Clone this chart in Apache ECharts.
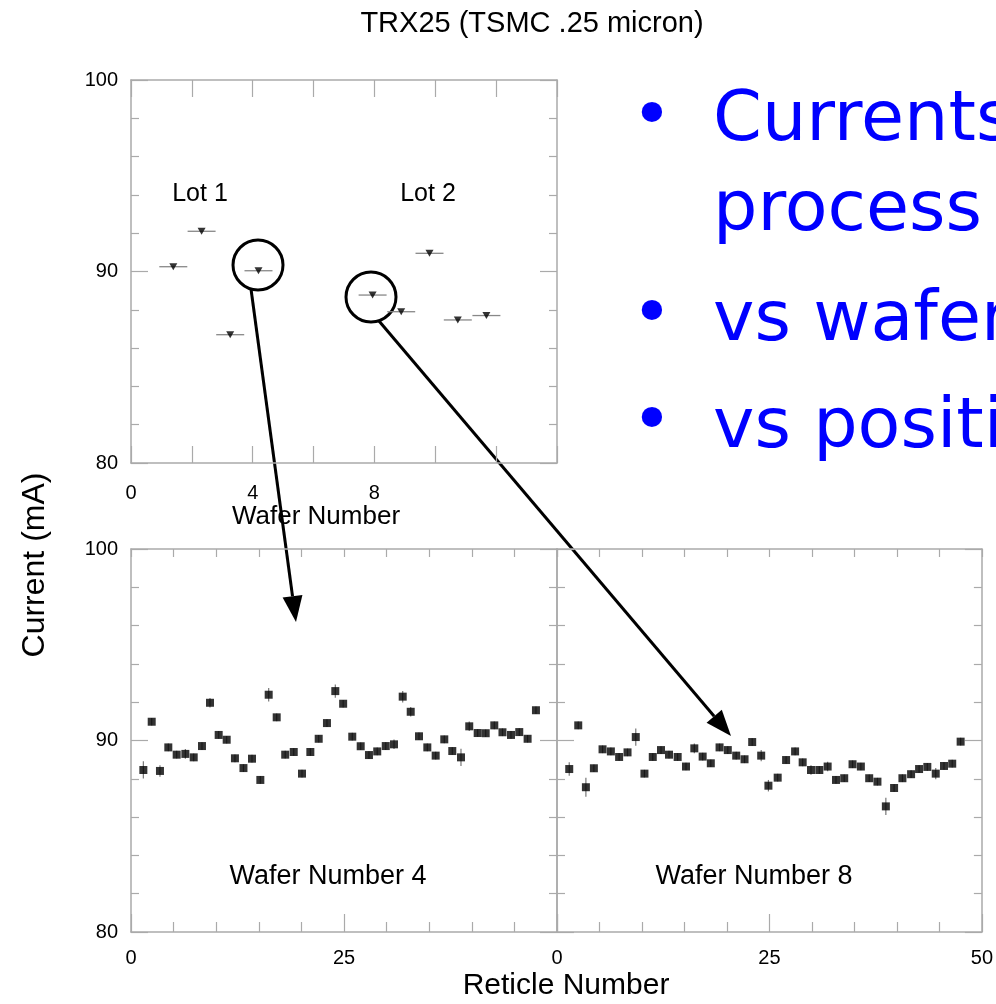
<!DOCTYPE html>
<html>
<head>
<meta charset="utf-8">
<script src="https://cdn.jsdelivr.net/npm/echarts@6/dist/echarts.min.js"></script>
<style>
  html, body { margin: 0; padding: 0; background: #fff; }
  #chart { width: 996px; height: 1004px; }
</style>
</head>
<body>
<div id="chart"></div>
<script>
// top panel: current vs wafer number (lot 1 and lot 2)
const waferX = [1.39, 2.32, 3.26, 4.19, 7.94, 8.88, 9.81, 10.74, 11.68];
const waferCurrent = [90.25, 92.1, 86.7, 90.04, 88.77, 87.9, 90.95, 87.47, 87.7];
const waferErr = [0.46, 0.46, 0.46, 0.46, 0.46, 0.46, 0.46, 0.46, 0.46];

// bottom panels: current vs reticle number for wafer 4 and wafer 8
const w4Reticle = [1.45, 2.43, 3.40, 4.38, 5.36, 6.38, 7.36, 8.33, 9.27, 10.29, 11.23, 12.20, 13.20, 14.20, 15.18, 16.16,
    17.10, 18.10, 19.10, 20.07, 21.05, 22.03, 23.00, 23.98, 24.90, 25.97, 26.96, 27.93, 28.90, 29.90, 30.87, 31.89,
    32.83, 33.80, 34.78, 35.76, 36.77, 37.71, 38.73, 39.70, 40.69, 41.63, 42.64, 43.60, 44.60, 45.57, 46.55, 47.53];
const w4Current = [88.46, 90.98, 88.41, 89.64, 89.26, 89.30, 89.12, 89.71, 91.97, 90.29, 90.04, 89.07, 88.56, 89.05, 87.94, 92.39,
    91.21, 89.26, 89.40, 88.27, 89.40, 90.09, 90.91, 92.58, 91.92, 90.20, 89.70, 89.24, 89.43, 89.71, 89.80, 92.29,
    91.50, 90.22, 89.64, 89.21, 90.06, 89.45, 89.12, 90.74, 90.39, 90.38, 90.79, 90.43, 90.29, 90.44, 90.09, 91.58];
const w4Err = [0.45, 0.2, 0.3, 0.2, 0.2, 0.25, 0.2, 0.2, 0.25, 0.2, 0.2, 0.2, 0.2, 0.2, 0.2, 0.35,
    0.2, 0.2, 0.2, 0.2, 0.2, 0.2, 0.2, 0.35, 0.2, 0.2, 0.2, 0.2, 0.2, 0.2, 0.25, 0.3,
    0.25, 0.2, 0.2, 0.2, 0.2, 0.2, 0.45, 0.25, 0.2, 0.2, 0.2, 0.2, 0.2, 0.2, 0.2, 0.2];
const w8Reticle = [1.44, 2.50, 3.40, 4.34, 5.36, 6.34, 7.31, 8.30, 9.27, 10.29, 11.27, 12.24, 13.18, 14.20, 15.18, 16.16,
    17.14, 18.10, 19.13, 20.10, 21.09, 22.07, 22.97, 24.03, 24.88, 25.97, 26.96, 28.02, 28.91, 29.89, 30.87, 31.85,
    32.83, 33.80, 34.78, 35.76, 36.74, 37.71, 38.70, 39.67, 40.65, 41.67, 42.61, 43.58, 44.57, 45.54, 46.51, 47.50];
const w8Current = [88.51, 90.79, 87.56, 88.55, 89.54, 89.43, 89.14, 89.38, 90.18, 88.27, 89.14, 89.50, 89.26, 89.14, 88.64, 89.59,
    89.16, 88.81, 89.64, 89.50, 89.21, 89.02, 89.92, 89.21, 87.64, 88.06, 88.98, 89.43, 88.86, 88.46, 88.46, 88.64,
    87.94, 88.03, 88.76, 88.64, 88.03, 87.85, 86.56, 87.52, 88.03, 88.24, 88.51, 88.62, 88.27, 88.67, 88.79, 89.94];
const w8Err = [0.35, 0.2, 0.5, 0.2, 0.2, 0.2, 0.2, 0.2, 0.45, 0.2, 0.2, 0.2, 0.2, 0.2, 0.2, 0.25,
    0.2, 0.2, 0.2, 0.2, 0.2, 0.2, 0.2, 0.3, 0.3, 0.2, 0.2, 0.2, 0.2, 0.25, 0.2, 0.25,
    0.2, 0.2, 0.2, 0.2, 0.2, 0.2, 0.45, 0.2, 0.2, 0.2, 0.2, 0.2, 0.3, 0.2, 0.2, 0.2];

// tick labels
const currentTicks = [80, 90, 100];
const waferTicks = [0, 4, 8];
const reticleTicksLeft = [0, 25];
const reticleTicksRight = [0, 25, 50];

const bulletLines = ["Currents", "process", "vs wafer", "vs position"];

const FONT = "Liberation Sans";
const AXIS_GRAY = "#aaa";

const myChart = echarts.init(document.getElementById("chart"));

const labelStyle = (list) => ({
    show: true,
    interval: 0,
    fontFamily: FONT,
    fontSize: 20,
    color: "#000",
    formatter: (v) => (list.includes(v) ? String(v) : "")
});

const xAx = (grid, pos, min, max, interval, tickLen, minor, labels, labelMargin) => ({
    type: "value",
    gridIndex: grid,
    position: pos,
    min: min,
    max: max,
    interval: interval,
    splitLine: { show: false },
    axisLine: { show: true, onZero: false, lineStyle: { color: AXIS_GRAY, width: 1.5 } },
    axisTick: { show: true, inside: true, length: tickLen, lineStyle: { color: AXIS_GRAY, width: 1.2 } },
    minorTick: minor
        ? { show: true, splitNumber: minor.split, length: minor.len, lineStyle: { color: AXIS_GRAY, width: 1.2 } }
        : { show: false },
    axisLabel: labels ? Object.assign(labelStyle(labels), { margin: labelMargin }) : { show: false }
});

const yAx = (grid, pos, labels) => ({
    type: "value",
    gridIndex: grid,
    position: pos,
    min: 80,
    max: 100,
    interval: 10,
    splitLine: { show: false },
    axisLine: { show: true, onZero: false, lineStyle: { color: AXIS_GRAY, width: 1.5 } },
    axisTick: { show: true, inside: true, length: 17, lineStyle: { color: AXIS_GRAY, width: 1.2 } },
    minorTick: { show: true, splitNumber: 5, length: 8, lineStyle: { color: AXIS_GRAY, width: 1.2 } },
    axisLabel: labels ? Object.assign(labelStyle(labels), { margin: 13 }) : { show: false }
});

// horizontal error bar (wafer panel)
const errBarH = (params, api) => {
    const x = api.value(0), y = api.value(1), e = api.value(2);
    const p1 = api.coord([x - e, y]);
    const p2 = api.coord([x + e, y]);
    return {
        type: "line",
        shape: { x1: p1[0], y1: p1[1], x2: p2[0], y2: p2[1] },
        style: { stroke: "#888", lineWidth: 1.3 }
    };
};

// vertical error bar (reticle panels)
const errBarV = (params, api) => {
    const x = api.value(0), y = api.value(1), e = api.value(2);
    const p1 = api.coord([x, y - e]);
    const p2 = api.coord([x, y + e]);
    return {
        type: "line",
        shape: { x1: p1[0], y1: p1[1], x2: p2[0], y2: p2[1] },
        style: { stroke: "#777", lineWidth: 1.2 }
    };
};

const arrow = (x1, y1, x2, y2) => {
    const ang = Math.atan2(y2 - y1, x2 - x1);
    const len = 26, half = 10;
    const bx = x2 - len * Math.cos(ang), by = y2 - len * Math.sin(ang);
    const nx = -Math.sin(ang) * half, ny = Math.cos(ang) * half;
    return [
        { type: "line", shape: { x1: x1, y1: y1, x2: bx, y2: by }, style: { stroke: "#000", lineWidth: 3 } },
        { type: "polygon", shape: { points: [[x2, y2], [bx + nx, by + ny], [bx - nx, by - ny]] }, style: { fill: "#000" } }
    ];
};

const txt = (x, y, text, size, extra) => ({
    type: "text",
    x: x,
    y: y,
    style: Object.assign({ text: text, fontFamily: FONT, fontSize: size, fill: "#000", align: "center", verticalAlign: "middle" }, extra || {})
});

const blueY = [122, 212, 322, 429];
const bulletY = [120, null, 318, 425];

const graphics = [
    txt(532, 24, "TRX25 (TSMC .25 micron)", 29),
    txt(200, 194, "Lot 1", 25),
    txt(428, 194, "Lot 2", 25),
    txt(316, 517, "Wafer Number", 26),
    txt(328, 877, "Wafer Number 4", 27),
    txt(754, 877, "Wafer Number 8", 27),
    txt(566, 986, "Reticle Number", 30),
    Object.assign(txt(35, 565, "Current (mA)", 32), { rotation: Math.PI / 2 }),
    { type: "circle", shape: { cx: 258, cy: 265, r: 25 }, style: { fill: null, stroke: "#000", lineWidth: 3 } },
    { type: "circle", shape: { cx: 371, cy: 297, r: 25 }, style: { fill: null, stroke: "#000", lineWidth: 3 } },
    ...arrow(251, 289, 296, 622),
    ...arrow(379, 321, 731, 736)
];
bulletLines.forEach((line, i) => {
    graphics.push({
        type: "text", x: 713, y: blueY[i],
        style: { text: line, fontFamily: "DejaVu Sans", fontSize: 70, fill: "#0000ff", align: "left", verticalAlign: "middle" }
    });
    if (bulletY[i] !== null) {
        graphics.push({
            type: "text", x: 652, y: bulletY[i],
            style: { text: "•", fontFamily: "DejaVu Sans", fontSize: 70, fill: "#0000ff", align: "center", verticalAlign: "middle" }
        });
    }
});

const options = {
    backgroundColor: "#fff",
    animation: false,
    grid: [
        { left: 131, top: 80, width: 426, height: 383 },
        { left: 131, top: 549, width: 426, height: 383 },
        { left: 557, top: 549, width: 426, height: 383 }
    ],
    xAxis: [
        xAx(0, "bottom", 0, 14, 2, 17, null, waferTicks, 20),
        xAx(0, "top", 0, 14, 2, 17, null, null),
        xAx(1, "bottom", 0, 50, 25, 18, { split: 5, len: 10 }, reticleTicksLeft, 16),
        xAx(1, "top", 0, 50, 25, 8, { split: 5, len: 8 }, null),
        xAx(2, "bottom", 0, 50, 25, 18, { split: 5, len: 10 }, reticleTicksRight, 16),
        xAx(2, "top", 0, 50, 25, 8, { split: 5, len: 8 }, null)
    ],
    yAxis: [
        yAx(0, "left", currentTicks),
        yAx(0, "right", null),
        yAx(1, "left", currentTicks),
        yAx(1, "right", null),
        yAx(2, "left", null),
        yAx(2, "right", null)
    ],
    series: [
        {
            type: "custom",
            xAxisIndex: 0,
            yAxisIndex: 0,
            renderItem: errBarH,
            data: waferX.map((x, i) => [x, waferCurrent[i], waferErr[i]]),
            z: 2
        },
        {
            type: "scatter",
            xAxisIndex: 0,
            yAxisIndex: 0,
            symbol: "triangle",
            symbolRotate: 180,
            symbolSize: [8, 7],
            itemStyle: { color: "#000" },
            data: waferX.map((x, i) => [x, waferCurrent[i]]),
            z: 3
        },
        {
            type: "custom",
            xAxisIndex: 2,
            yAxisIndex: 2,
            renderItem: errBarV,
            data: w4Reticle.map((x, i) => [x, w4Current[i], w4Err[i]]),
            z: 2
        },
        {
            type: "scatter",
            xAxisIndex: 2,
            yAxisIndex: 2,
            symbol: "rect",
            symbolSize: 8,
            itemStyle: { color: "#000" },
            data: w4Reticle.map((x, i) => [x, w4Current[i]]),
            z: 3
        },
        {
            type: "custom",
            xAxisIndex: 4,
            yAxisIndex: 4,
            renderItem: errBarV,
            data: w8Reticle.map((x, i) => [x, w8Current[i], w8Err[i]]),
            z: 2
        },
        {
            type: "scatter",
            xAxisIndex: 4,
            yAxisIndex: 4,
            symbol: "rect",
            symbolSize: 8,
            itemStyle: { color: "#000" },
            data: w8Reticle.map((x, i) => [x, w8Current[i]]),
            z: 3
        }
    ],
    graphic: graphics
};

myChart.setOption(options);
</script>
</body>
</html>
